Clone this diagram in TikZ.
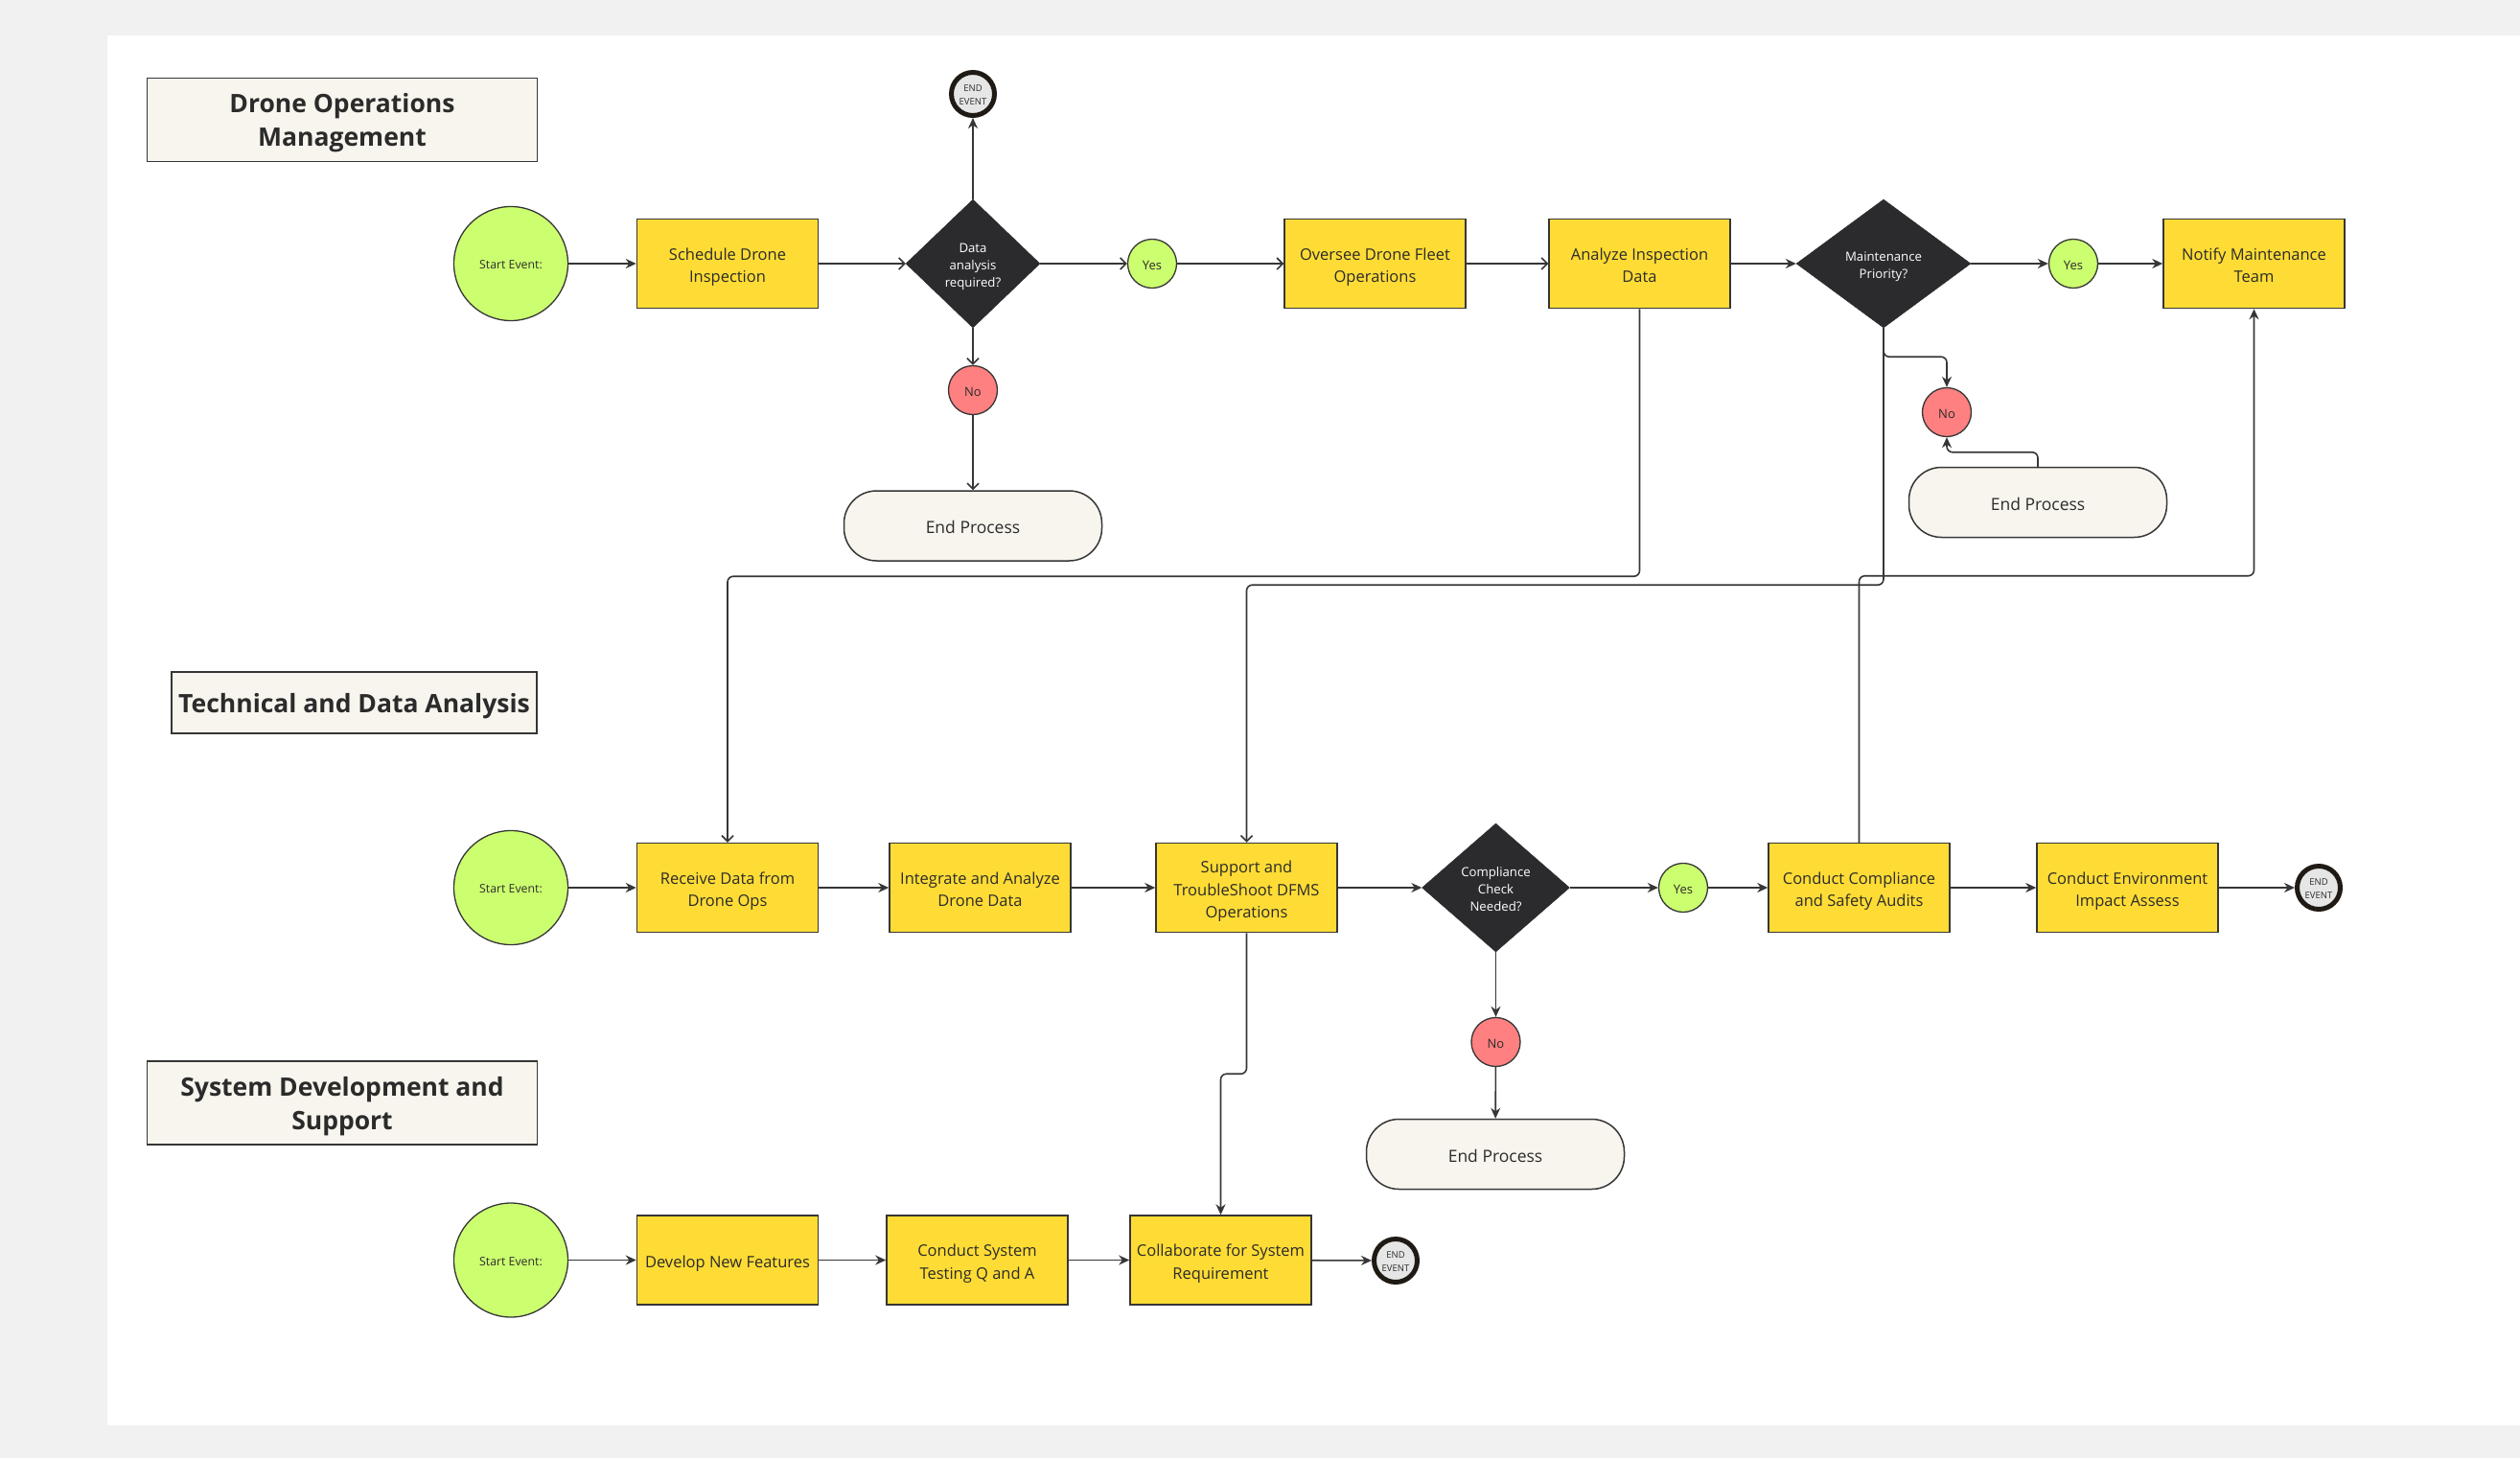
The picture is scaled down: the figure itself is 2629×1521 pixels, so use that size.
\documentclass[tikz,border=0pt]{standalone}
\usepackage{fontspec}
\setmainfont{Open Sans}
\usetikzlibrary{shapes.geometric,arrows.meta}

\definecolor{bgout}{HTML}{F1F1F1}
\definecolor{stroke}{HTML}{363636}
\definecolor{taskfill}{HTML}{FFDC35}
\definecolor{startfill}{HTML}{CCFF70}
\definecolor{nofill}{HTML}{FF8080}
\definecolor{gatefill}{HTML}{2B2B2E}
\definecolor{endfill}{HTML}{E6E6E6}
\definecolor{endring}{HTML}{1F1A14}
\definecolor{cream}{HTML}{F8F5EE}
\definecolor{ink}{HTML}{2B2B2B}

% centred lines on struts of the current baselineskip, set a little low
% while keeping the box dimensions used for centring
\newcommand{\ml}[2][0.2em]{\raisebox{-#1}[\height][\depth]{\begin{tabular}{@{}c@{}}#2\end{tabular}}}

\tikzset{
  task/.style={rectangle, draw=stroke, line width=1.5pt, fill=taskfill,
    minimum width=189pt, minimum height=93pt, inner sep=2pt,
    font=\fontsize{16.5}{23.5}\selectfont, text=ink},
  startev/.style={circle, draw=stroke, line width=1.3pt, fill=startfill,
    minimum size=119pt, inner sep=0pt, font=\fontsize{12.3}{17}\selectfont, text=ink},
  yesnode/.style={circle, draw=stroke, line width=1.3pt, fill=startfill,
    minimum size=51pt, inner sep=0pt, font=\fontsize{13}{18}\selectfont, text=ink},
  nonode/.style={yesnode, fill=nofill},
  endev/.style={circle, draw=endring, line width=5pt, fill=endfill,
    minimum size=45pt, inner sep=0pt,
    font=\fontsize{9.5}{14}\selectfont, text=ink},
  gate/.style={diamond, fill=gatefill, draw=gatefill, inner sep=0pt,
    text=white, font=\fontsize{13.2}{18.3}\selectfont},
  endproc/.style={rectangle, rounded corners=34pt, draw=stroke, line width=1.5pt,
    fill=cream, minimum width=269pt, minimum height=73pt,
    font=\fontsize{17.5}{24}\selectfont, text=ink},
  lane/.style={rectangle, draw=stroke, line width=1.5pt, fill=cream,
    font=\fontsize{26.5}{35}\selectfont\bfseries, text=ink},
  link/.style={draw=stroke, line width=1.6pt, rounded corners=6pt},
  arr/.style={link, -{Stealth[length=11pt, width=10pt]}},
  oarr/.style={link, -{Straight Barb[length=6pt, width=12pt]}},
}

\begin{document}
\begin{tikzpicture}[x=1pt, y=-1pt]
  % page and canvas
  \fill[bgout] (0,0) rectangle (2629,1521);
  \fill[white] (112,37) rectangle (2629,1487);

  % lane titles
  \node[lane, minimum width=407pt, minimum height=87pt] (t1) at (357,125) {\ml[0.12em]{Drone Operations\\Management}};
  \node[lane, minimum width=381pt, minimum height=64pt] (t2) at (369.5,733) {\ml[0.12em]{Technical and Data Analysis}};
  \node[lane, minimum width=407pt, minimum height=87pt] (t3) at (357,1150.5) {\ml[0.12em]{System Development and\\Support}};

  % drone operations lane
  \node[startev] (s1) at (533,275) {\ml{Start Event:}};
  \node[task] (sched) at (759,275) {\ml{Schedule Drone\\Inspection}};
  \node[gate, minimum width=140pt, minimum height=134pt] (d1) at (1015,275) {\ml{Data\\analysis\\required?}};
  \node[endev] (ee1) at (1015,98) {\ml{END\\EVENT}};
  \node[nonode] (no1) at (1015,407) {\ml{No}};
  \node[endproc] (ep1) at (1015,548.5) {\ml{End Process}};
  \node[yesnode] (yes1) at (1202,275) {\ml{Yes}};
  \node[task] (oversee) at (1434.5,275) {\ml{Oversee Drone Fleet\\Operations}};
  \node[task] (analyze) at (1710.5,275) {\ml{Analyze Inspection\\Data}};
  \node[gate, minimum width=182pt, minimum height=134pt] (d2) at (1965,275) {\ml{Maintenance\\Priority?}};
  \node[yesnode] (yes2) at (2163,275) {\ml{Yes}};
  \node[task] (notify) at (2351.5,275) {\ml{Notify Maintenance\\Team}};
  \node[nonode] (no2) at (2031,430) {\ml{No}};
  \node[endproc] (ep2) at (2126,524) {\ml{End Process}};

  % technical and data analysis lane
  \node[startev] (s2) at (533,926) {\ml{Start Event:}};
  \node[task] (receive) at (759,926) {\ml{Receive Data from\\Drone Ops}};
  \node[task] (integrate) at (1022.5,926) {\ml{Integrate and Analyze\\Drone Data}};
  \node[task] (support) at (1300.5,926) {\ml{Support and\\TroubleShoot DFMS\\Operations}};
  \node[gate, minimum width=154pt, minimum height=134pt] (d3) at (1560.5,926) {\ml{Compliance\\Check\\Needed?}};
  \node[yesnode] (yes3) at (1756,926) {\ml{Yes}};
  \node[task] (comp) at (1939.5,926) {\ml{Conduct Compliance\\and Safety Audits}};
  \node[task] (env) at (2219.5,926) {\ml{Conduct Environment\\Impact Assess}};
  \node[endev] (ee2) at (2419,926) {\ml{END\\EVENT}};
  \node[nonode] (no3) at (1560.5,1087) {\ml{No}};
  \node[endproc] (ep3) at (1560,1204) {\ml{End Process}};

  % system development lane
  \node[startev] (s3) at (533,1314.5) {\ml{Start Event:}};
  \node[task] (develop) at (759,1314.5) {\ml{Develop New Features}};
  \node[task] (testing) at (1019.5,1314.5) {\ml{Conduct System\\Testing Q and A}};
  \node[task] (collab) at (1273.5,1314.5) {\ml{Collaborate for System\\Requirement}};
  \node[endev] (ee3) at (1456,1315) {\ml{END\\EVENT}};

  % flow: drone operations
  \draw[arr] (s1) -- (sched);
  \draw[oarr] (sched) -- (d1);
  \draw[arr] (d1) -- (ee1);
  \draw[oarr] (d1) -- (no1);
  \draw[oarr] (no1) -- (ep1);
  \draw[oarr] (d1) -- (yes1);
  \draw[oarr] (yes1) -- (oversee);
  \draw[oarr] (oversee) -- (analyze);
  \draw[arr] (analyze) -- (d2);
  \draw[arr] (d2) -- (yes2);
  \draw[arr] (yes2) -- (notify);
  \draw[arr] (d2.south) -- ++(0,30) -| (no2.north);
  \draw[arr] (ep2.north) -- ++(0,-15) -| (no2.south);

  % flow: cross-lane links
  \draw[oarr] (analyze.south) -- ++(0,279) -| (receive.north);
  \draw[oarr] (d2.south) -- ++(0,268) -| (support.north);
  \draw[arr] (comp.north) -- ++(0,-278) -| (notify.south);
  \draw[arr] (support.south) -- ++(0,147) -| (collab.north);

  % flow: technical and data analysis
  \draw[arr] (s2) -- (receive);
  \draw[arr] (receive) -- (integrate);
  \draw[arr] (integrate) -- (support);
  \draw[arr] (support) -- (d3);
  \draw[arr] (d3) -- (yes3);
  \draw[arr] (yes3) -- (comp);
  \draw[arr] (comp) -- (env);
  \draw[arr] (env) -- (ee2);
  \draw[arr] (d3) -- (no3);
  \draw[arr] (no3) -- (ep3);

  % flow: system development
  \draw[arr] (s3) -- (develop);
  \draw[arr] (develop) -- (testing);
  \draw[arr] (testing) -- (collab);
  \draw[arr] (collab) -- (ee3);
\end{tikzpicture}
\end{document}
